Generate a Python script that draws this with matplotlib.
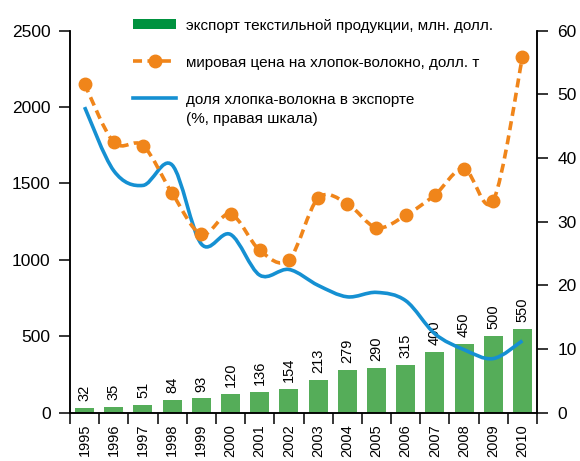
import matplotlib
matplotlib.use("Agg")
import matplotlib.pyplot as plt
import numpy as np
from matplotlib.path import Path
from matplotlib.patches import PathPatch, Rectangle
from matplotlib.lines import Line2D

# data
years = ["1995", "1996", "1997", "1998", "1999", "2000", "2001", "2002",
         "2003", "2004", "2005", "2006", "2007", "2008", "2009", "2010"]
export_mln = [32, 35, 51, 84, 93, 120, 136, 154, 213, 279, 290, 315, 400, 450, 500, 550]
price_usd = [2151, 1770, 1748, 1436, 1168, 1300, 1063, 1001,
             1403, 1368, 1211, 1292, 1425, 1597, 1388, 2326]
cotton_share = [48.0, 38.0, 35.7, 38.9, 26.5, 28.0, 21.6, 22.5,
                20.0, 18.2, 18.9, 17.6, 12.4, 9.9, 8.5, 11.3]

legend_labels = ["экспорт текстильной продукции, млн. долл.",
                 "мировая цена на хлопок-волокно, долл. т",
                 "доля хлопка-волокна в экспорте",
                 "(%, правая шкала)"]

GREEN = "#55ad59"
GREEN_LEG = "#00923f"
ORANGE = "#f0851a"
BLUE = "#1590d2"

W, H = 580, 461
plt.rcParams["font.family"] = ["Liberation Sans", "DejaVu Sans"]


def smooth_path(xs, ys, k=1 / 6):
    # Catmull-Rom style Bezier through the data points (like "smoothed line")
    pts = np.column_stack([xs, ys]).astype(float)
    n = len(pts)
    verts = [pts[0]]
    codes = [Path.MOVETO]
    for i in range(n - 1):
        p0 = pts[i - 1] if i > 0 else pts[i]
        p1, p2 = pts[i], pts[i + 1]
        p3 = pts[i + 2] if i + 2 < n else pts[i + 1]
        verts += [p1 + (p2 - p0) * k, p2 - (p3 - p1) * k, p2]
        codes += [Path.CURVE4] * 3
    return Path(verts, codes)


def fx(px):
    return px / W


def fy(py):
    return 1 - py / H


fig = plt.figure(figsize=(W / 100, H / 100), dpi=100)
ax = fig.add_axes([fx(70), fy(412.7), (537 - 70) / W, (412.7 - 30.7) / H])
ax2 = ax.twinx()

x = np.arange(len(years))
ax.bar(x, export_mln, width=0.65, color=GREEN, zorder=2)
for xi, v in zip(x, export_mln):
    ax.annotate(str(v), (xi, v), xytext=(0, 5), textcoords="offset points",
                rotation=90, ha="center", va="bottom", fontsize=10.5)

# orange (left scale) and blue (right scale) both drawn on the top axes
ax2.add_patch(PathPatch(smooth_path(x, price_usd), fill=False, edgecolor=ORANGE,
                        lw=2.6, linestyle=(0, (2.5, 1.5)), transform=ax.transData,
                        zorder=3, capstyle="butt"))
ax2.plot(x, price_usd, "o", ms=9, color=ORANGE, transform=ax.transData, zorder=4)
ax2.add_patch(PathPatch(smooth_path(x, cotton_share), fill=False, edgecolor=BLUE,
                        lw=2.6, transform=ax2.transData, zorder=2))

ax.set_xlim(-0.5, len(years) - 0.5)
ax.set_ylim(0, 2500)
ax2.set_ylim(0, 60)
ax.set_yticks([0, 500, 1000, 1500, 2000, 2500])
ax2.set_yticks([0, 10, 20, 30, 40, 50, 60])

ax.set_xticks(x)
ax.set_xticklabels(years, rotation=90, fontsize=10.5)
ax.set_xticks(np.arange(-0.5, len(years)), minor=True)
ax.tick_params(axis="x", which="major", length=0, pad=8)
ax.tick_params(axis="x", which="minor", length=8, width=1.1, direction="out")
ax.tick_params(axis="y", length=8, width=1.1, pad=6, labelsize=12.5)
ax2.tick_params(axis="y", length=8, width=1.1, pad=6.5, labelsize=12.5)

for a in (ax, ax2):
    a.spines["top"].set_visible(False)
    for s in ("left", "right", "bottom"):
        a.spines[s].set_linewidth(1.1)

# legend drawn by hand in the top-left corner
fig.add_artist(Rectangle((fx(133), fy(29.3)), fx(176) - fx(133), fy(19.3) - fy(29.3),
                         transform=fig.transFigure, color=GREEN_LEG, lw=0))
fig.add_artist(Line2D([fx(133), fx(176)], [fy(60.7)] * 2, transform=fig.transFigure,
                      color=ORANGE, lw=2.6, linestyle=(0, (2.5, 1.5))))
fig.add_artist(Line2D([fx(154.5)], [fy(60.7)], transform=fig.transFigure,
                      color=ORANGE, marker="o", ms=9, lw=0))
fig.add_artist(Line2D([fx(133), fx(176)], [fy(97.7)] * 2, transform=fig.transFigure,
                      color=BLUE, lw=2.6))
for label, base in zip(legend_labels, [30, 67.4, 103.7, 123]):
    fig.text(fx(186), fy(base), label, fontsize=11, va="baseline", ha="left")

fig.savefig("out.png", dpi=100)
